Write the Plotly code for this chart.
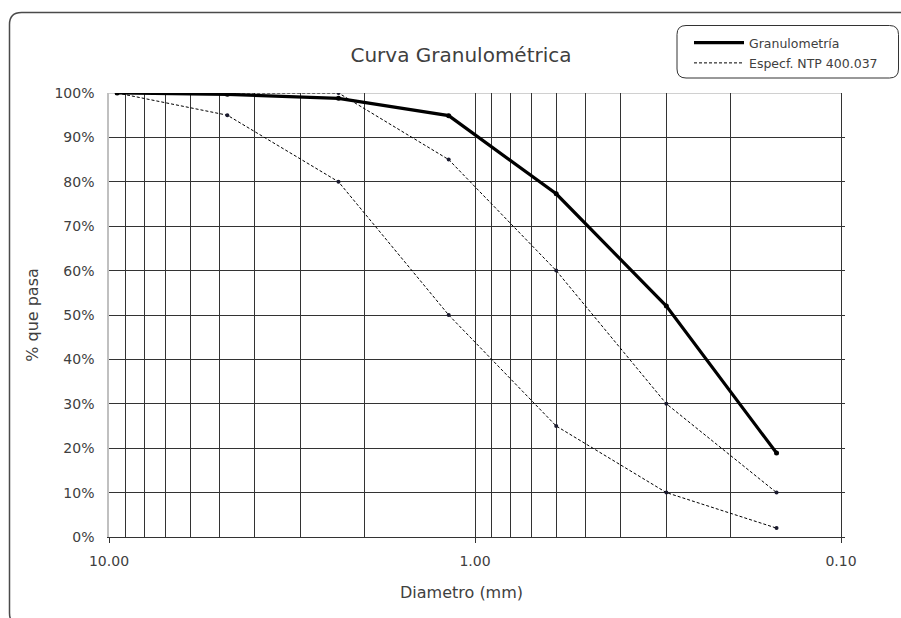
import plotly.graph_objects as go

# ---- data ----
sieve_mm = [9.5, 4.75, 2.36, 1.18, 0.60, 0.30, 0.15]
granulometria = [100.0, 99.7, 98.8, 94.9, 77.3, 52.0, 18.9]
spec_upper = [100, 100, 100, 85, 60, 30, 10]
spec_lower = [100, 95, 80, 50, 25, 10, 2]

FONT = "DejaVu Sans"
TXT = "#404040"
GRID = "#333333"

W, H = 901, 618
PL, PR, PT, PB = 109, 845, 93, 537  # plot area in page pixels
ML, MT = PL, PT
MR, MB = W - PR, H - PB
PW = PR - PL
PH = PB - PT


def px(x):
    return (x - PL) / PW


def py(y):
    return (PB - y) / PH


def rrect(x0, y0, x1, y1, r):
    return (f"M {px(x0 + r)},{py(y0)} L {px(x1 - r)},{py(y0)} "
            f"Q {px(x1)},{py(y0)} {px(x1)},{py(y0 + r)} L {px(x1)},{py(y1 - r)} "
            f"Q {px(x1)},{py(y1)} {px(x1 - r)},{py(y1)} L {px(x0 + r)},{py(y1)} "
            f"Q {px(x0)},{py(y1)} {px(x0)},{py(y1 - r)} L {px(x0)},{py(y0 + r)} "
            f"Q {px(x0)},{py(y0)} {px(x0 + r)},{py(y0)} Z")


fig = go.Figure()

dash = "3px,2px"
for ys, show in [(spec_upper, True), (spec_lower, False)]:
    fig.add_trace(go.Scatter(x=sieve_mm, y=ys, mode="lines",
                             line=dict(color="black", width=1, dash=dash),
                             name="Especf. NTP 400.037", showlegend=show,
                             legendrank=2, legendgroup="spec", hoverinfo="skip"))
    fig.add_trace(go.Scatter(x=sieve_mm, y=ys, mode="markers",
                             marker=dict(size=4, color="#1a1a2e"),
                             showlegend=False))

fig.add_trace(go.Scatter(x=sieve_mm, y=granulometria, mode="lines",
                         line=dict(color="black", width=3.2),
                         name="Granulometría", legendrank=1, legendgroup="gran"))
fig.add_trace(go.Scatter(x=sieve_mm, y=granulometria, mode="markers",
                         marker=dict(size=5, color="black"), showlegend=False))

fig.update_layout(
    width=W, height=H,
    margin=dict(l=ML, r=MR, t=MT, b=MB),
    paper_bgcolor="white", plot_bgcolor="white",
    font=dict(family=FONT, color=TXT, size=13),
    title=dict(text="Curva Granulométrica", x=461 / W, xref="container",
               xanchor="center", y=1 - 55 / H, yref="container", yanchor="middle",
               font=dict(size=20, color=TXT, family=FONT)),
    showlegend=True,
    legend=dict(x=px(689), y=py(28), xanchor="left", yanchor="top",
                bgcolor="rgba(0,0,0,0)", borderwidth=0,
                font=dict(size=12.5, color=TXT, family=FONT),
                traceorder="grouped", tracegroupgap=1, itemwidth=50),
    xaxis=dict(type="log", range=[1, -1 - 4 / 366], autorange=False,
               dtick=1, tickformat=".2f",
               showgrid=True, gridcolor=GRID, gridwidth=1,
               minor=dict(dtick="D1", showgrid=True, gridcolor=GRID, gridwidth=1, ticks=""),
               ticks="outside", ticklen=5, tickcolor=GRID,
               showline=True, linecolor=GRID, linewidth=1,
               ticklabelstandoff=6,
               zeroline=False, tickfont=dict(size=14, color=TXT)),
    yaxis=dict(range=[0, 100], autorange=False, dtick=10, ticksuffix="%",
               showgrid=True, gridcolor=GRID, gridwidth=1,
               showline=True, linecolor="#c0c0c0", linewidth=1.5,
               ticks="", ticklabelstandoff=10, zeroline=False,
               tickfont=dict(size=14, color=TXT),
               title=dict(text="% que pasa", standoff=12, font=dict(size=16, color=TXT))),
    annotations=[dict(text="Diametro (mm)", xref="paper", yref="paper",
                      x=px(461), y=py(592), xanchor="center", yanchor="middle",
                      showarrow=False, font=dict(size=16, color=TXT, family=FONT))],
    shapes=[
        dict(type="line", xref="paper", yref="y", x0=0, x1=px(841), y0=100, y1=100,
             line=dict(color="#c0c0c0", width=1.5), layer="between"),
        dict(type="path", xref="paper", yref="paper", path=rrect(9.5, 12.5, 915, 625, 12),
             line=dict(color="#4a4a4a", width=1.5), layer="above"),
        dict(type="path", xref="paper", yref="paper", path=rrect(677, 25.5, 898.5, 78, 9),
             line=dict(color="#333333", width=1), layer="above"),
    ],
)

fig.write_html(
    "out.html",
    config={"displayModeBar": False},
    post_script="document.body.style.margin='0';document.body.style.overflow='hidden';",
)
